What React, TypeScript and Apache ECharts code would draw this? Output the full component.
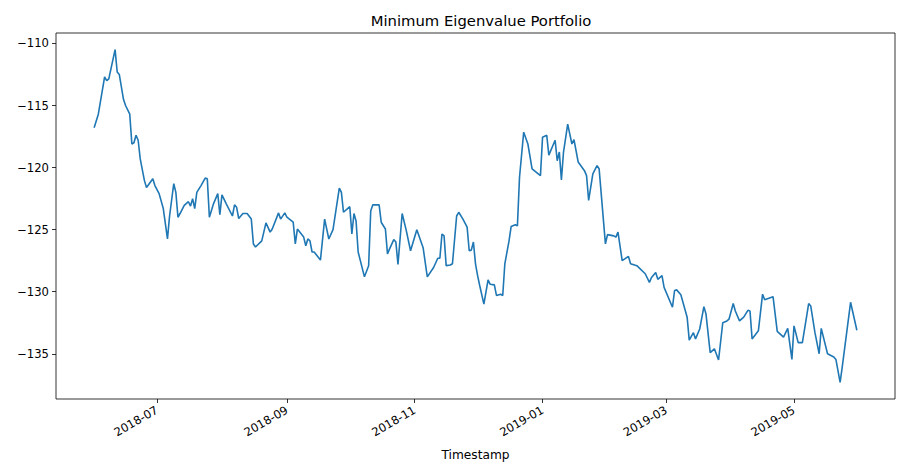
import React, { useEffect, useRef } from "react";
import * as echarts from "echarts";

const dates = [
  "2018-06-01","2018-06-03","2018-06-06","2018-06-07","2018-06-08","2018-06-11","2018-06-12","2018-06-13","2018-06-15","2018-06-16",
  "2018-06-18","2018-06-19","2018-06-20","2018-06-21","2018-06-22","2018-06-23","2018-06-25","2018-06-26","2018-06-29","2018-06-30",
  "2018-07-02","2018-07-04","2018-07-06","2018-07-07","2018-07-09","2018-07-10","2018-07-11","2018-07-12","2018-07-14","2018-07-16",
  "2018-07-17","2018-07-18","2018-07-19","2018-07-20","2018-07-22","2018-07-24","2018-07-25","2018-07-26","2018-07-28","2018-07-30",
  "2018-07-31","2018-08-01","2018-08-03","2018-08-06","2018-08-07","2018-08-08","2018-08-09","2018-08-11","2018-08-13","2018-08-15",
  "2018-08-16","2018-08-17","2018-08-20","2018-08-22","2018-08-24","2018-08-25","2018-08-28","2018-08-29","2018-08-31","2018-09-01",
  "2018-09-04","2018-09-05","2018-09-06","2018-09-09","2018-09-10","2018-09-11","2018-09-12","2018-09-13","2018-09-14","2018-09-17",
  "2018-09-19","2018-09-21","2018-09-23","2018-09-26","2018-09-27","2018-09-28","2018-10-01","2018-10-02","2018-10-03","2018-10-04",
  "2018-10-05","2018-10-08","2018-10-10","2018-10-11","2018-10-12","2018-10-15","2018-10-16","2018-10-18","2018-10-19","2018-10-20",
  "2018-10-22","2018-10-23","2018-10-24","2018-10-26","2018-10-28","2018-10-30","2018-11-02","2018-11-05","2018-11-07","2018-11-10",
  "2018-11-12","2018-11-13","2018-11-14","2018-11-15","2018-11-16","2018-11-18","2018-11-19","2018-11-21","2018-11-22","2018-11-24",
  "2018-11-26","2018-11-27","2018-11-28","2018-11-29","2018-11-30","2018-12-01","2018-12-02","2018-12-04","2018-12-06","2018-12-07",
  "2018-12-09","2018-12-10","2018-12-12","2018-12-13","2018-12-14","2018-12-16","2018-12-17","2018-12-19","2018-12-20","2018-12-21",
  "2018-12-23","2018-12-25","2018-12-27","2018-12-31","2019-01-01","2019-01-03","2019-01-04","2019-01-07","2019-01-08","2019-01-09",
  "2019-01-10","2019-01-11","2019-01-13","2019-01-15","2019-01-16","2019-01-18","2019-01-21","2019-01-22","2019-01-23","2019-01-25",
  "2019-01-27","2019-01-28","2019-01-31","2019-02-01","2019-02-04","2019-02-05","2019-02-06","2019-02-08","2019-02-11","2019-02-12",
  "2019-02-15","2019-02-19","2019-02-21","2019-02-22","2019-02-24","2019-02-25","2019-02-27","2019-02-28","2019-03-04","2019-03-05",
  "2019-03-06","2019-03-08","2019-03-11","2019-03-12","2019-03-14","2019-03-15","2019-03-17","2019-03-19","2019-03-20","2019-03-22",
  "2019-03-24","2019-03-26","2019-03-28","2019-03-30","2019-03-31","2019-04-02","2019-04-03","2019-04-05","2019-04-07","2019-04-09",
  "2019-04-10","2019-04-11","2019-04-14","2019-04-16","2019-04-17","2019-04-21","2019-04-23","2019-04-26","2019-04-28","2019-04-30",
  "2019-05-01","2019-05-03","2019-05-05","2019-05-08","2019-05-09","2019-05-11","2019-05-13","2019-05-14","2019-05-17","2019-05-20",
  "2019-05-21","2019-05-23","2019-05-24","2019-05-28","2019-05-31"
];

const values = [
  -116.8,-115.7,-112.7,-113.0,-112.85,-110.5,-112.3,-112.5,-114.5,-115.0,
  -115.7,-118.1,-118.0,-117.4,-117.8,-119.3,-121.05,-121.6,-120.9,-121.45,
  -122.1,-123.3,-125.75,-123.9,-121.3,-122.0,-124.0,-123.7,-123.05,-122.75,
  -123.1,-122.5,-123.3,-122.0,-121.45,-120.85,-120.9,-124.0,-122.9,-122.1,
  -123.8,-122.2,-122.9,-123.9,-123.0,-123.2,-124.1,-123.7,-123.7,-124.15,
  -126.15,-126.4,-125.9,-124.45,-125.2,-124.95,-123.65,-124.15,-123.65,-124.0,
  -124.4,-126.15,-124.95,-125.6,-126.3,-125.75,-125.9,-126.8,-126.8,-127.45,
  -124.15,-125.75,-125.0,-121.65,-122.0,-123.6,-123.15,-125.35,-123.7,-124.3,
  -126.8,-128.8,-127.9,-123.5,-123.0,-123.0,-124.4,-124.95,-126.95,-126.55,
  -125.8,-126.0,-127.8,-123.7,-125.1,-126.7,-125.0,-126.45,-128.8,-128.05,
  -127.3,-127.3,-125.35,-125.5,-127.9,-127.85,-127.75,-123.9,-123.6,-124.15,
  -124.8,-126.7,-126.65,-126.0,-127.75,-128.7,-129.5,-131.0,-129.05,-129.4,
  -129.45,-130.3,-130.2,-130.3,-127.75,-125.9,-124.75,-124.6,-124.7,-120.8,
  -117.15,-118.1,-120.1,-120.65,-117.55,-117.4,-119.0,-117.8,-119.45,-118.75,
  -121.0,-118.75,-116.5,-118.1,-117.75,-119.55,-120.25,-120.65,-122.65,-120.5,
  -119.85,-120.1,-126.15,-125.4,-125.5,-125.6,-125.2,-127.5,-127.15,-127.75,
  -127.9,-128.55,-129.25,-128.85,-128.45,-129.0,-128.7,-129.65,-131.25,-129.9,
  -129.85,-130.25,-132.05,-133.9,-133.3,-133.8,-133.0,-131.2,-131.8,-134.9,
  -134.6,-135.5,-132.5,-132.35,-132.2,-130.95,-131.55,-132.35,-132.05,-131.5,
  -131.55,-133.8,-133.15,-130.2,-130.65,-130.4,-133.2,-133.65,-132.95,-135.45,
  -132.75,-134.1,-134.1,-130.95,-131.15,-133.3,-135.0,-132.95,-135.0,-135.25,
  -135.45,-137.3,-136.1,-130.85,-133.1
];

const xTickDates = ["2018-07-01", "2018-09-01", "2018-11-01", "2019-01-01", "2019-03-01", "2019-05-01"];
const xTickLabels = ["2018-07", "2018-09", "2018-11", "2019-01", "2019-03", "2019-05"];
const yTicks = [-135, -130, -125, -120, -115, -110];

const TITLE = "Minimum Eigenvalue Portfolio";
const X_NAME = "Timestamp";

const toTs = (d: string) => Date.parse(d + "T00:00:00Z");

export default function App() {
  const ref = useRef<HTMLDivElement>(null);
  useEffect(() => {
    if (!ref.current) return;
    const chart = echarts.init(ref.current, null, { renderer: "svg" });
    const data = dates.map((d, i) => [toTs(d), values[i]]);
    const xs = data.map((p) => p[0]);
    const ys = values;
    const x0 = Math.min(...xs), x1 = Math.max(...xs);
    const y0 = Math.min(...ys), y1 = Math.max(...ys);
    const xm = (x1 - x0) * 0.05, ym = (y1 - y0) * 0.05;
    const tickTs = xTickDates.map(toTs);
    const font = "DejaVu Sans";
    const tickFont = 11.6;
    chart.setOption({
      animation: false,
      backgroundColor: "#ffffff",
      title: {
        text: TITLE,
        left: 476,
        top: 8,
        textAlign: "center",
        textStyle: { fontFamily: font, fontSize: 14.8, fontWeight: "normal", color: "#000" },
      },
      grid: {
        left: 56,
        top: 33,
        width: 839,
        height: 366,
        show: true,
        borderColor: "#000",
        borderWidth: 0.8,
        backgroundColor: "transparent",
      },
      xAxis: {
        type: "value",
        min: x0 - xm,
        max: x1 + xm,
        name: X_NAME,
        nameLocation: "middle",
        nameGap: 50,
        nameTextStyle: { fontFamily: font, fontSize: 12.2, color: "#000" },
        axisLine: { show: false },
        splitLine: { show: false },
        axisTick: { show: true, length: 4, customValues: tickTs, lineStyle: { color: "#000", width: 0.8 } },
        axisLabel: {
          customValues: tickTs,
          rotate: 30,
          margin: 10,
          fontFamily: font,
          fontSize: tickFont,
          color: "#000",
          formatter: (v: number) => {
            const i = tickTs.indexOf(v);
            return i >= 0 ? xTickLabels[i] : "";
          },
        },
      },
      yAxis: {
        type: "value",
        min: y0 - ym,
        max: y1 + ym,
        axisLine: { show: false },
        splitLine: { show: false },
        axisTick: { show: true, length: 4, customValues: yTicks, lineStyle: { color: "#000", width: 0.8 } },
        axisLabel: {
          customValues: yTicks,
          margin: 7,
          fontFamily: font,
          fontSize: tickFont,
          color: "#000",
          formatter: (v: number) => (v < 0 ? "\u2212" : "") + Math.abs(v),
        },
      },
      series: [
        {
          type: "line",
          data,
          showSymbol: false,
          symbol: "none",
          lineStyle: { color: "#1f77b4", width: 1.6 },
          itemStyle: { color: "#1f77b4" },
        },
      ],
    });
    return () => chart.dispose();
  }, []);
  return <div ref={ref} style={{ position: "fixed", left: 0, top: 0, width: 912, height: 466 }} />;
}
